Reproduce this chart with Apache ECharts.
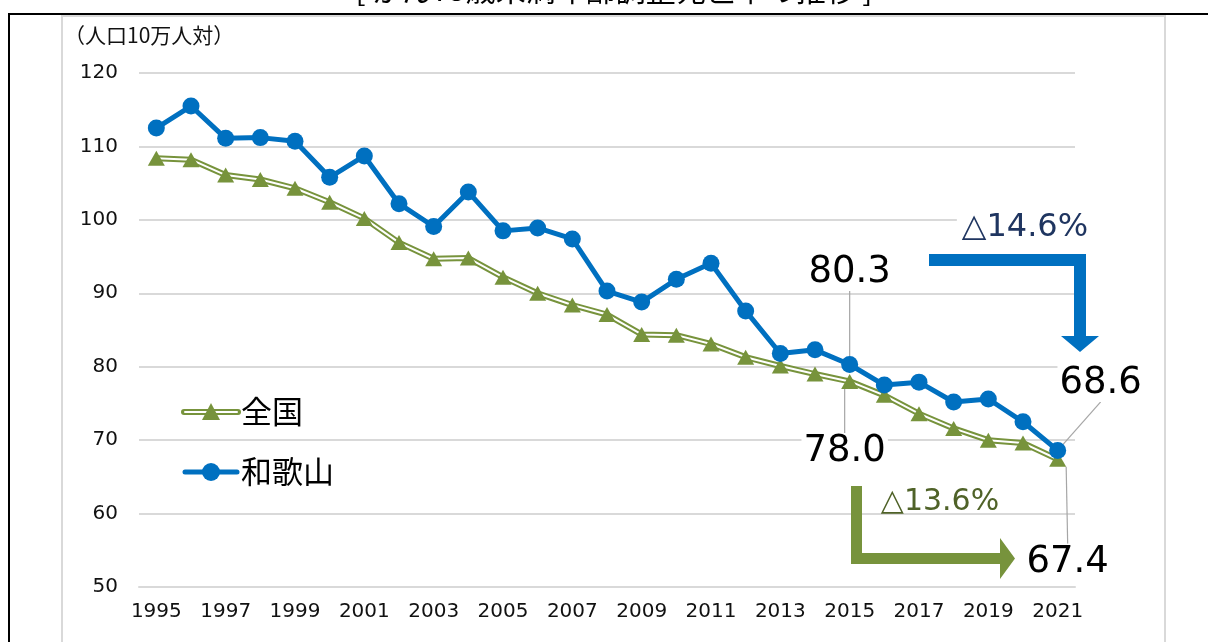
<!DOCTYPE html>
<html>
<head>
<meta charset="utf-8">
<script src="https://cdn.jsdelivr.net/npm/echarts@6/dist/echarts.min.js"></script>
<style>
html,body{margin:0;padding:0;background:#fff;}
#c{width:1208px;height:642px;}
</style>
</head>
<body>
<div id="c"></div>
<script>
const years = ['1995','1996','1997','1998','1999','2000','2001','2002','2003','2004','2005','2006','2007','2008','2009','2010','2011','2012','2013','2014','2015','2016','2017','2018','2019','2020','2021'];
const wakayama = [112.5,115.5,111.1,111.2,110.7,105.8,108.7,102.2,99.1,103.8,98.5,98.9,97.4,90.3,88.8,91.9,94.1,87.6,81.8,82.3,80.3,77.5,77.9,75.2,75.6,72.5,68.6];
const national = [108.4,108.2,106.1,105.5,104.3,102.4,100.2,96.9,94.7,94.8,92.2,90.0,88.4,87.1,84.4,84.3,83.1,81.3,80.1,79.0,78.0,76.1,73.6,71.6,70.0,69.6,67.4];
const seriesNames = ['全国','和歌山'];
const labelledYears = ['2015','2021'];
const yTicks = {min:50, max:120, interval:10};
const unitText = '（人口10万人対）';
const titleText = '[ がん75歳未満年齢調整死亡率の推移 ]';
const changeWakayama = '△14.6%';
const changeNational = '△13.6%';

const BLUE = '#0070C0', GREEN = '#77933C';
const labelIdx = labelledYears.map(y => years.indexOf(y));
const numFont = 'DejaVu Sans';

function withLabels(arr){
  return arr.map((v,i) => labelIdx.includes(i) ? {value:v, label:{show:true}} : v);
}
const dataLabel = {
  show:false, position:'inside', formatter:p => Number(p.value).toFixed(1),
  color:'#000', fontSize:37, fontFamily:numFont, backgroundColor:'#fff', padding:[0,2,0,2]
};

const chart = echarts.init(document.getElementById('c'), null, {renderer:'canvas'});
const option = {
  animation:false,
  backgroundColor:'#fff',
  grid:{left:139, right:133, top:73, bottom:55, containLabel:false},
  xAxis:{
    type:'category', data:years, boundaryGap:true,
    axisLine:{show:true, lineStyle:{color:'#d9d9d9', width:2}},
    axisTick:{show:false},
    axisLabel:{interval:1, color:'#111', fontSize:20, fontFamily:numFont, margin:15}
  },
  yAxis:{
    type:'value', min:yTicks.min, max:yTicks.max, interval:yTicks.interval,
    axisLine:{show:false}, axisTick:{show:false},
    axisLabel:{color:'#111', fontSize:20, fontFamily:numFont, margin:21},
    splitLine:{lineStyle:{color:'#d9d9d9', width:2}}
  },
  series:[
    {name:seriesNames[0]+'_outer', type:'line', data:national, showSymbol:false, symbol:'none',
     lineStyle:{color:GREEN, width:6}, z:2, silent:true},
    {name:seriesNames[0]+'_inner', type:'line', data:national, showSymbol:false, symbol:'none',
     lineStyle:{color:'#fff', width:2}, z:2, silent:true},
    {name:seriesNames[0], type:'scatter', data:withLabels(national), symbol:'triangle', symbolSize:[17,15],
     itemStyle:{color:GREEN, opacity:1}, z:3,
     label:dataLabel,
     labelLine:{show:true, lineStyle:{color:'#a6a6a6', width:1.2}},
     labelLayout:function(p){ return p.dataIndex===labelIdx[0] ? {dx:-5, dy:70} : {dx:10, dy:103}; }
    },
    {name:seriesNames[1], type:'line', data:withLabels(wakayama), symbol:'circle', symbolSize:17, showSymbol:true,
     lineStyle:{color:BLUE, width:5}, itemStyle:{color:BLUE}, z:4,
     label:dataLabel,
     labelLine:{show:true, lineStyle:{color:'#a6a6a6', width:1.2}},
     labelLayout:function(p){ return p.dataIndex===labelIdx[0] ? {dx:0, dy:-92} : {dx:43, dy:-67}; }
    }
  ],
  graphic:[
    // frame
    {type:'line', shape:{x1:8, y1:14, x2:1208, y2:14}, style:{stroke:'#000', lineWidth:2}, z:-10},
    {type:'line', shape:{x1:9, y1:14, x2:9, y2:642}, style:{stroke:'#000', lineWidth:2}, z:-10},
    {type:'polyline', shape:{points:[[62,645],[62,16],[1165,16],[1165,645]]}, style:{stroke:'#d9d9d9', lineWidth:2, fill:null}, z:-10},
    // cropped title
    {type:'text', x:614, y:5, style:{text:titleText, fontSize:30, fontFamily:'Noto Sans CJK JP', fill:'#000', align:'center', verticalAlign:'bottom'}, z:-5},
    // unit label
    {type:'text', x:64, y:35, style:{text:unitText, fontSize:21, fontFamily:'Noto Sans CJK JP', fill:'#111', align:'left', verticalAlign:'middle'}},
    // legend: national
    {type:'line', shape:{x1:184, y1:412, x2:238, y2:412}, style:{stroke:GREEN, lineWidth:6, lineCap:'round'}},
    {type:'line', shape:{x1:185, y1:412, x2:237, y2:412}, style:{stroke:'#fff', lineWidth:2, lineCap:'round'}},
    {type:'polygon', shape:{points:[[211,403],[220,420],[202,420]]}, style:{fill:GREEN}},
    {type:'text', x:241, y:411, style:{text:seriesNames[0], fontSize:31, fontFamily:'Noto Sans CJK JP', fill:'#000', verticalAlign:'middle'}},
    // legend: wakayama
    {type:'line', shape:{x1:185, y1:472, x2:237, y2:472}, style:{stroke:BLUE, lineWidth:5, lineCap:'round'}},
    {type:'circle', shape:{cx:211, cy:472, r:9}, style:{fill:BLUE}},
    {type:'text', x:241, y:471, style:{text:seriesNames[1], fontSize:31, fontFamily:'Noto Sans CJK JP', fill:'#000', verticalAlign:'middle'}},
    // blue arrow
    {type:'polygon', shape:{points:[[929,254],[1086,254],[1086,336],[1099,336],[1080,352],[1061,336],[1074,336],[1074,266],[929,266]]}, style:{fill:BLUE}, z:10},
    {type:'text', x:1025, y:228, style:{text:changeWakayama, fontSize:32, fontFamily:numFont, fill:'#1F3560', align:'center', verticalAlign:'middle', backgroundColor:'#fff', padding:[2,5,2,5]}, z:10},
    // green arrow
    {type:'polygon', shape:{points:[[851,486],[862,486],[862,553],[1000,553],[1000,538],[1015,558.5],[1000,579],[1000,564],[851,564]]}, style:{fill:GREEN}, z:10},
    {type:'text', x:940, y:502, style:{text:changeNational, fontSize:30, fontFamily:numFont, fill:'#4F6228', align:'center', verticalAlign:'middle'}, z:10}
  ]
};
chart.setOption(option);
</script>
</body>
</html>
